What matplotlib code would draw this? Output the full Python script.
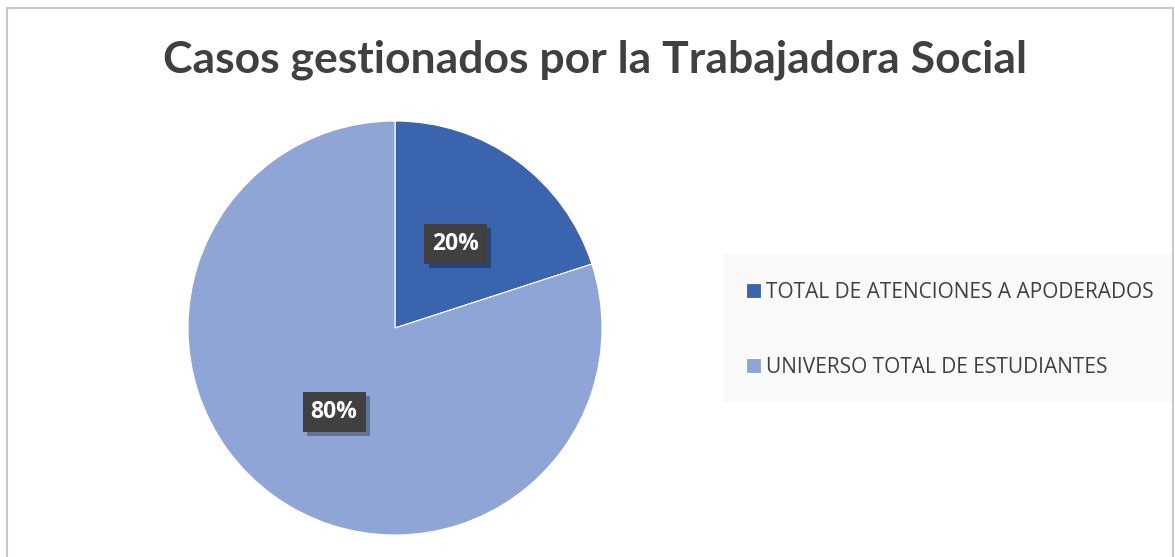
import matplotlib.pyplot as plt
from matplotlib.patches import Rectangle
import matplotlib.patheffects as pe

# Data
labels = ["TOTAL DE ATENCIONES A APODERADOS", "UNIVERSO TOTAL DE ESTUDIANTES"]
values = [20, 80]
colors = ["#3a64ad", "#8fa5d6"]
title = "Casos gestionados por la Trabajadora Social"

W, H = 1175, 557
fig = plt.figure(figsize=(W / 100, H / 100), dpi=100)
fig.patch.set_facecolor("white")

# outer chart border
fig.add_artist(Rectangle((7 / W, -0.02), (1173 - 7) / W, (H - 8) / H + 0.02,
                         transform=fig.transFigure, fill=False,
                         edgecolor="#c8c8c8", linewidth=1.5))

fig.text(595 / W, 1 - 60 / H, title, ha="center", va="center",
         fontsize=32, fontweight="bold", color="#404040", family="Lato")

# pie axes: center (395, 328), radius 207 px
cx, cy, r = 395, 328, 207
ax = fig.add_axes([(cx - r) / W, (H - cy - r) / H, 2 * r / W, 2 * r / H])
wedges, texts, autotexts = ax.pie(values, colors=colors, startangle=90, counterclock=False,
                                  autopct="%1.0f%%", pctdistance=0.5, radius=1,
                                  wedgeprops=dict(linewidth=0.8, edgecolor="white"))
ax.set_xlim(-1, 1)
ax.set_ylim(-1, 1)
ax.set_aspect("equal")
ax.axis("off")

for t in autotexts:
    t.set_color("white")
    t.set_fontsize(16.5)
    t.set_fontweight("bold")
    t.set_family("Open Sans")
    t.set_bbox(dict(boxstyle="square,pad=0.35", facecolor="#404040", edgecolor="none"))
    t.get_bbox_patch().set_path_effects([
        pe.SimplePatchShadow(offset=(3, -3), shadow_rgbFace="#000000", alpha=0.3),
        pe.Normal()])

# legend background panel
fig.add_artist(Rectangle((724 / W, 1 - 402 / H), (1172 - 724) / W, (402 - 254) / H,
                         transform=fig.transFigure, facecolor="#f9f9f9", edgecolor="none"))

leg = fig.legend(wedges, labels, loc="upper left",
                 bbox_to_anchor=(746 / W, 1 - 282 / H),
                 frameon=False,
                 prop=dict(family="Open Sans", size=15),
                 handlelength=0.72, handleheight=0.72, handletextpad=0.22,
                 labelspacing=2.6, borderpad=0, borderaxespad=0)
for t in leg.get_texts():
    t.set_color("#404040")

fig.savefig("out.png", dpi=100)
